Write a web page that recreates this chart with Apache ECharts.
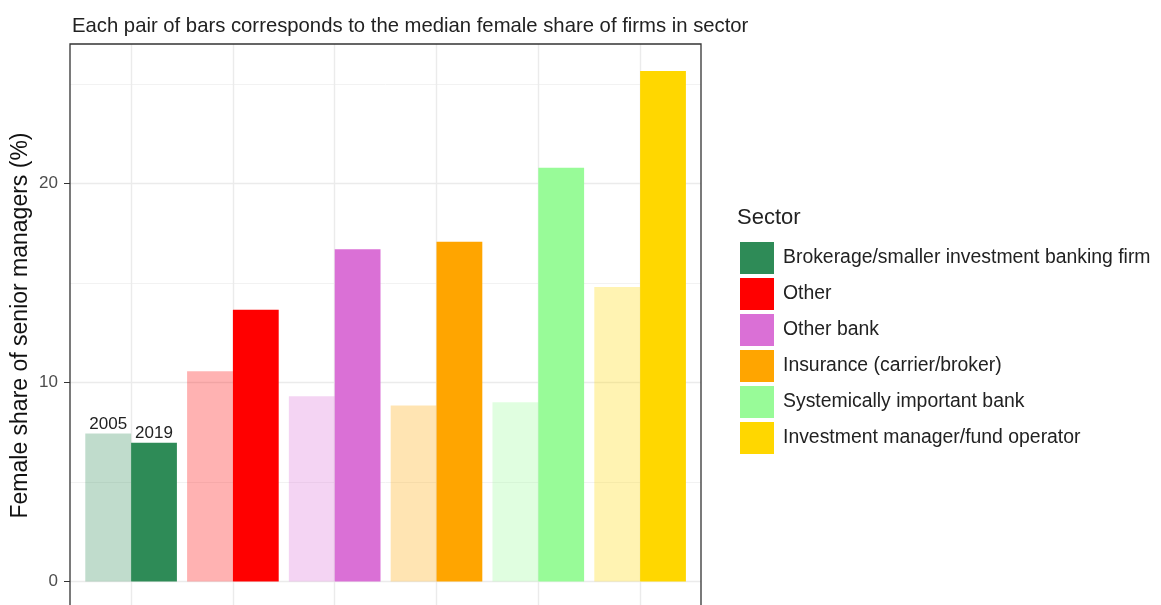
<!DOCTYPE html>
<html>
<head>
<meta charset="utf-8">
<script src="https://cdn.jsdelivr.net/npm/echarts@6/dist/echarts.min.js"></script>
<style>
  * { margin: 0; padding: 0; }
  #main { width: 1161px; height: 605px; background: #fff; }
</style>
</head>
<body>
<div id="main"></div>
<script>
  // sectors, in plot order
  var sectors = ['Brokerage/smaller investment banking firm', 'Other', 'Other bank',
    'Insurance (carrier/broker)', 'Systemically important bank', 'Investment manager/fund operator'];
  var years = ['2005', '2019'];
  // median female share of senior managers (%)
  var share2005 = [7.43, 10.56, 9.30, 8.84, 9.00, 14.79];
  var share2019 = [6.97, 13.65, 16.69, 17.07, 20.78, 25.64];
  var sectorColors = ['#2E8B57', '#FF0000', '#DA70D6', '#FFA500', '#98FB98', '#FFD700'];
  var yLabelTicks = [0, 10, 20];
  var yGridTicks = [0, 5, 10, 15, 20, 25];

  var yMin = -1.28, yMax = 27.0;
  var panelTop = 44, panelHeight = 563;

  var chart = echarts.init(document.getElementById('main'));

  function barData(vals, faded) {
    return vals.map(function (v, i) {
      var c = faded ? echarts.color.modifyAlpha(sectorColors[i], 0.3) : sectorColors[i];
      var item = { value: v, itemStyle: { color: c } };
      if (i === 0) item.label = { show: true };
      return item;
    });
  }

  var series = [];
  // horizontal grid lines over the whole panel
  series.push({
    type: 'line', xAxisIndex: 0, yAxisIndex: 0, data: [], silent: true, z: 0,
    markLine: {
      silent: true, symbol: 'none', label: { show: false }, animation: false, z: 0,
      data: yGridTicks.map(function (t) {
        return { yAxis: t, lineStyle: { color: t % 10 === 0 ? '#EBEBEB' : '#F2F2F2', width: t % 10 === 0 ? 1.4 : 1, type: 'solid' } };
      })
    }
  });
  // vertical grid lines at the sector centres
  series.push({
    type: 'line', xAxisIndex: 1, yAxisIndex: 1, data: [], silent: true, z: 0,
    markLine: {
      silent: true, symbol: 'none', label: { show: false }, animation: false, z: 0,
      lineStyle: { color: '#EBEBEB', width: 1.4, type: 'solid' },
      data: sectors.map(function (s) { return { xAxis: s }; })
    }
  });
  [share2005, share2019].forEach(function (vals, k) {
    series.push({
      name: years[k],
      type: 'bar',
      xAxisIndex: 1, yAxisIndex: 1,
      barWidth: '45%',
      barGap: '0%',
      z: 3,
      label: {
        show: false, position: 'top', distance: 1,
        formatter: years[k], color: '#222', fontSize: 17
      },
      data: barData(vals, k === 0)
    });
  });
  // legend entries for the sectors
  sectors.forEach(function (s, i) {
    series.push({
      name: s, type: 'line', xAxisIndex: 0, yAxisIndex: 0, data: [],
      itemStyle: { color: sectorColors[i] }, lineStyle: { color: sectorColors[i] }
    });
  });

  chart.setOption({
    animation: false,
    textStyle: { fontFamily: 'Liberation Sans, Arial' },
    title: [{
      text: 'Each pair of bars corresponds to the median female share of firms in sector',
      left: 67, top: 11,
      textStyle: { fontSize: 20.3, fontWeight: 'normal', color: '#222' }
    }, {
      text: 'Sector',
      left: 732, top: 202,
      textStyle: { fontSize: 22, fontWeight: 'normal', color: '#222' }
    }],
    legend: {
      data: sectors,
      orient: 'vertical',
      left: 735, top: 237,
      icon: 'rect',
      itemWidth: 34, itemHeight: 32, itemGap: 4,
      textStyle: { fontSize: 19.4, color: '#222', padding: [0, 0, 0, 4] },
      selectedMode: false
    },
    grid: [
      { left: 70, top: panelTop, width: 631, height: panelHeight, show: true, outerBoundsMode: 'none',
        borderColor: '#333', borderWidth: 1.3, backgroundColor: 'transparent', z: 5 },
      { left: 80.2, top: panelTop, width: 610.8, height: panelHeight, outerBoundsMode: 'none' }
    ],
    xAxis: [
      { type: 'value', gridIndex: 0, min: 0, max: 1, show: false },
      { type: 'category', gridIndex: 1, data: sectors, show: false }
    ],
    yAxis: [
      {
        type: 'value', gridIndex: 0, min: yMin, max: yMax,
        name: 'Female share of senior managers (%)',
        nameLocation: 'middle', nameGap: 38, nameMoveOverlap: false,
        nameTextStyle: { fontSize: 23, color: '#111' },
        axisLine: { show: false },
        axisTick: { show: true, length: 6, customValues: yLabelTicks, lineStyle: { color: '#333' } },
        axisLabel: { customValues: yLabelTicks, margin: 12, fontSize: 17, color: '#4D4D4D' },
        splitLine: { show: false }
      },
      { type: 'value', gridIndex: 1, min: yMin, max: yMax, show: false, splitLine: { show: false } }
    ],
    series: series
  });
</script>
</body>
</html>
